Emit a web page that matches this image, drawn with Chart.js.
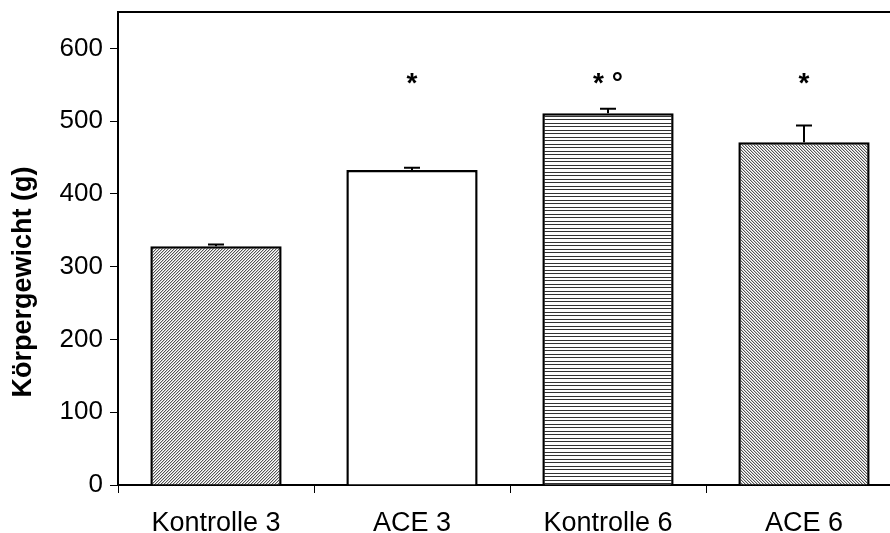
<!DOCTYPE html>
<html>
<head>
<meta charset="utf-8">
<script src="https://cdn.jsdelivr.net/npm/chart.js@4"></script>
<style>
  html, body { margin: 0; padding: 0; background: #fff; overflow: hidden; }
</style>
</head>
<body>
<canvas id="chart" width="902" height="533"></canvas>
<script>
var categories = ['Kontrolle 3', 'ACE 3', 'Kontrolle 6', 'ACE 6'];
var weights = [328, 433, 511, 471];
var errors = [2.5, 3, 6, 23];
var marks = ['', '*', '* \u00b0', '*'];
var markLevel = 550;
var yTitle = 'Körpergewicht (g)';

// fill patterns for the bars
function hatch(kind) {
    if (kind === 'white') return '#fff';
    var c = document.createElement('canvas');
    var g = c.getContext('2d');
    if (kind === 'horiz') {
        c.width = 4; c.height = 7;
        g.fillStyle = '#fff'; g.fillRect(0, 0, 4, 7);
        g.fillStyle = '#333';
        g.fillRect(0, 0, 4, 1);
        g.fillRect(0, 4, 4, 1);
    } else {
        c.width = 3; c.height = 3;
        g.fillStyle = '#fff'; g.fillRect(0, 0, 3, 3);
        for (var k = 0; k < 3; k++) {
            var x = kind === 'up' ? 2 - k : k;
            g.fillStyle = '#555';
            g.fillRect(x, k, 1, 1);
            g.fillStyle = '#c8c8c8';
            g.fillRect((x + 1) % 3, k, 1, 1);
        }
    }
    return g.createPattern(c, 'repeat');
}

var fills = [hatch('up'), hatch('white'), hatch('horiz'), hatch('down')];
var family = '"Liberation Sans", Arial, sans-serif';

var extras = {
    id: 'extras',
    afterDatasetsDraw: function(chart) {
        var ctx = chart.ctx;
        var y = chart.scales.y;
        var meta = chart.getDatasetMeta(0);
        var area = chart.chartArea;
        ctx.save();
        // frame top line
        ctx.strokeStyle = '#000';
        ctx.lineWidth = 2;
        ctx.beginPath();
        ctx.moveTo(area.left - 1, area.top);
        ctx.lineTo(area.right, area.top);
        ctx.stroke();
        // error bars (upper only) and significance marks
        meta.data.forEach(function(bar, i) {
            var top = y.getPixelForValue(weights[i]);
            var hi = y.getPixelForValue(weights[i] + errors[i]);
            ctx.beginPath();
            ctx.moveTo(bar.x, top);
            ctx.lineTo(bar.x, hi);
            ctx.moveTo(bar.x - 8, hi);
            ctx.lineTo(bar.x + 8, hi);
            ctx.stroke();
            if (marks[i]) {
                ctx.fillStyle = '#000';
                ctx.font = 'bold 28px ' + family;
                ctx.textAlign = 'center';
                ctx.textBaseline = 'middle';
                ctx.fillText(marks[i], bar.x, y.getPixelForValue(markLevel));
            }
        });
        // y axis title, sits a bit below the middle like the original
        ctx.translate(24, 282);
        ctx.rotate(-Math.PI / 2);
        ctx.fillStyle = '#000';
        ctx.font = 'bold 27px ' + family;
        ctx.textAlign = 'center';
        ctx.textBaseline = 'middle';
        ctx.fillText(yTitle, 0, 0);
        ctx.restore();
    }
};

new Chart(document.getElementById('chart'), {
    type: 'bar',
    data: {
        labels: categories,
        datasets: [{
            data: weights,
            backgroundColor: fills,
            borderColor: '#000',
            borderWidth: 2.5,
            borderSkipped: 'bottom',
            barPercentage: 0.67,
            categoryPercentage: 1
        }]
    },
    options: {
        responsive: false,
        animation: false,
        layout: { padding: { top: 12, right: 0, left: 0, bottom: 0 } },
        plugins: { legend: { display: false }, tooltip: { enabled: false } },
        scales: {
            x: {
                afterFit: function(s) {
                    s.height = 48;
                    s.paddingLeft = 0; s.paddingRight = 0;
                },
                grid: { offset: true, drawOnChartArea: false, tickLength: 8, color: '#000', lineWidth: 1 },
                border: { color: '#000', width: 2 },
                ticks: { color: '#000', font: { family: family, size: 27 }, padding: 14, maxRotation: 0 }
            },
            y: {
                min: 0,
                max: 650,
                afterFit: function(s) {
                    s.width = 118;
                    s.paddingTop = 0; s.paddingBottom = 0;
                },
                afterBuildTicks: function(s) {
                    s.ticks = s.ticks.filter(function(t) { return t.value <= 600; });
                },
                grid: { drawOnChartArea: false, tickLength: 8, color: '#000', lineWidth: 1 },
                border: { color: '#000', width: 2 },
                ticks: { color: '#000', font: { family: family, size: 26 }, padding: 7, stepSize: 100 }
            }
        }
    },
    plugins: [extras]
});
</script>
</body>
</html>
